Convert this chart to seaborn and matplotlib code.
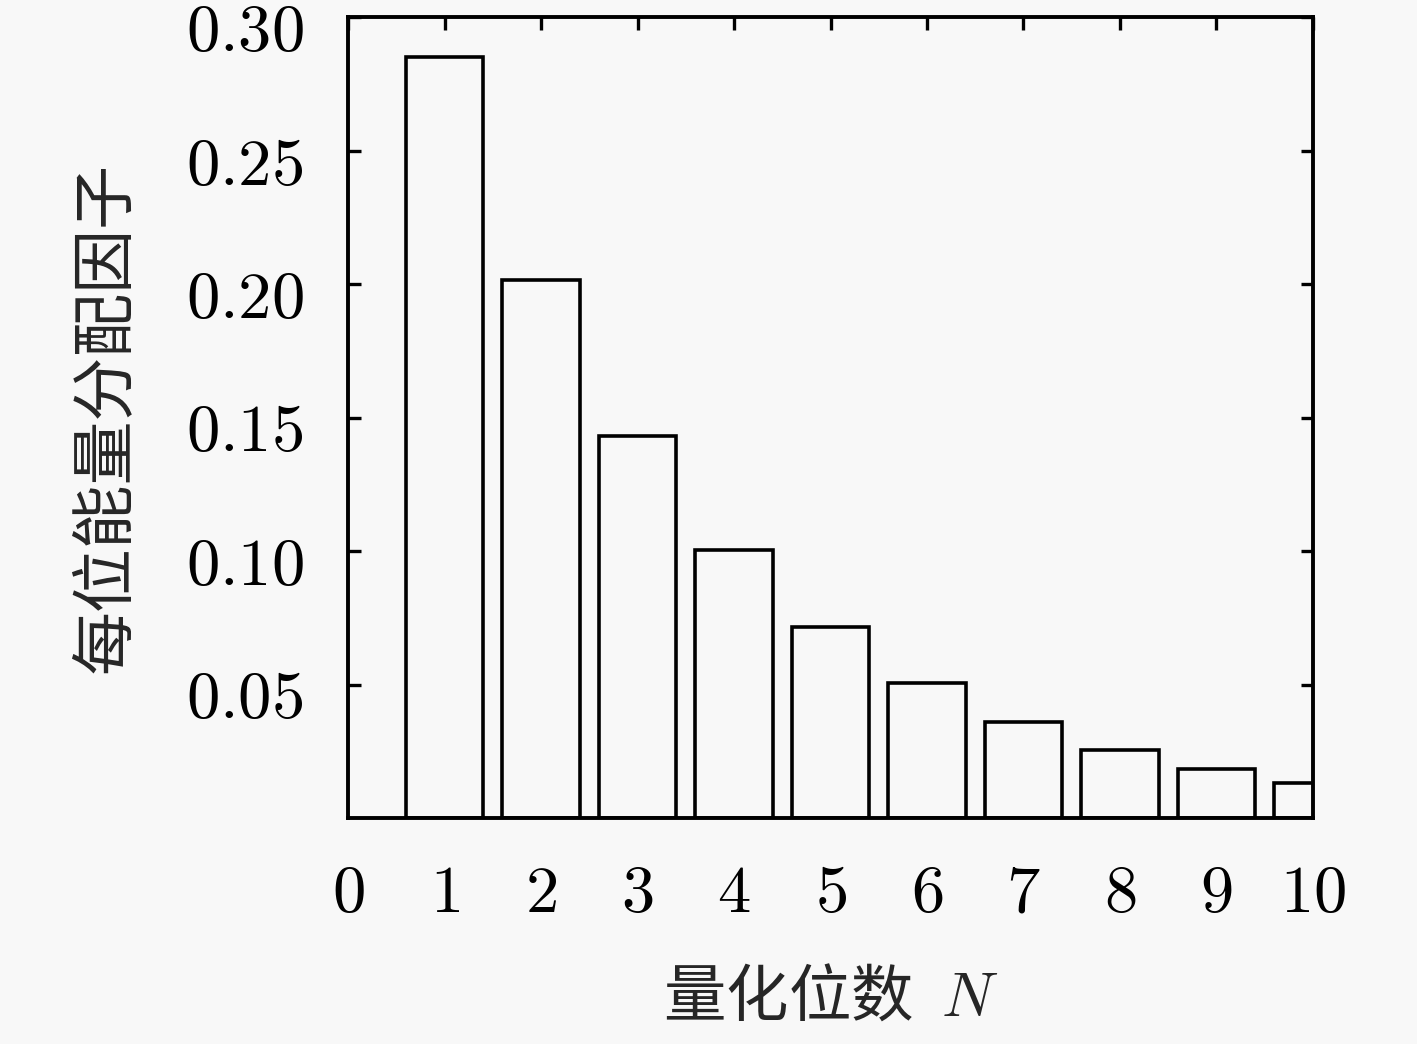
import numpy as np
import pandas as pd
import seaborn as sns
import matplotlib.pyplot as plt
from matplotlib.transforms import ScaledTranslation

# bits of quantisation and the energy allocation factor per bit
bits = [1, 2, 3, 4, 5, 6, 7, 8, 9, 10]
factor = [0.285, 0.2015, 0.143, 0.1005, 0.0715, 0.0505, 0.0358, 0.0253, 0.0182, 0.013]
yticks = [0.05, 0.10, 0.15, 0.20, 0.25, 0.30]
xticks = [0, 1, 2, 3, 4, 5, 6, 7, 8, 9, 10]

sns.set_style("ticks")
plt.rcParams['font.family'] = ['Noto Sans CJK SC', 'DejaVu Sans']
plt.rcParams['mathtext.fontset'] = 'cm'
bg = '#f8f8f8'

df = pd.DataFrame({'N': bits, 'f': factor})

fig = plt.figure(figsize=(14.17, 10.44), dpi=100, facecolor=bg)
ax = fig.add_axes([0.2456, 0.2165, 0.681, 0.767])
ax.set_facecolor(bg)

sns.barplot(data=df, x='N', y='f', native_scale=True, width=0.8,
            color='black', fill=False, linewidth=2.6, ax=ax)

ax.set_xlim(0, 10)
ax.set_ylim(0, 0.30)
ax.set_xticks(xticks)
ax.set_xticklabels([f"${v}$" for v in xticks])
ax.set_yticks(yticks)
ax.set_yticklabels([f"${v:.2f}$" for v in yticks])

for s in ax.spines.values():
    s.set_linewidth(2.8)
    s.set_color('black')
    s.set_visible(True)

ax.tick_params(axis='both', direction='in', length=9, width=2.4,
               labelsize=48, top=True, bottom=False, right=True, colors='black')
ax.tick_params(axis='y', pad=32)
ax.tick_params(axis='x', pad=30)

# labels sit a little below their ticks in the reference
shift = ScaledTranslation(0, -5.5 / 72, fig.dpi_scale_trans)
for lab in ax.get_yticklabels():
    lab.set_transform(lab.get_transform() + shift)

ax.set_xlabel("量化位数  $N$", fontsize=45, labelpad=28)
ax.set_ylabel("每位能量分配因子", fontsize=46, labelpad=34)

fig.savefig("out.png", dpi=100, facecolor=bg)
